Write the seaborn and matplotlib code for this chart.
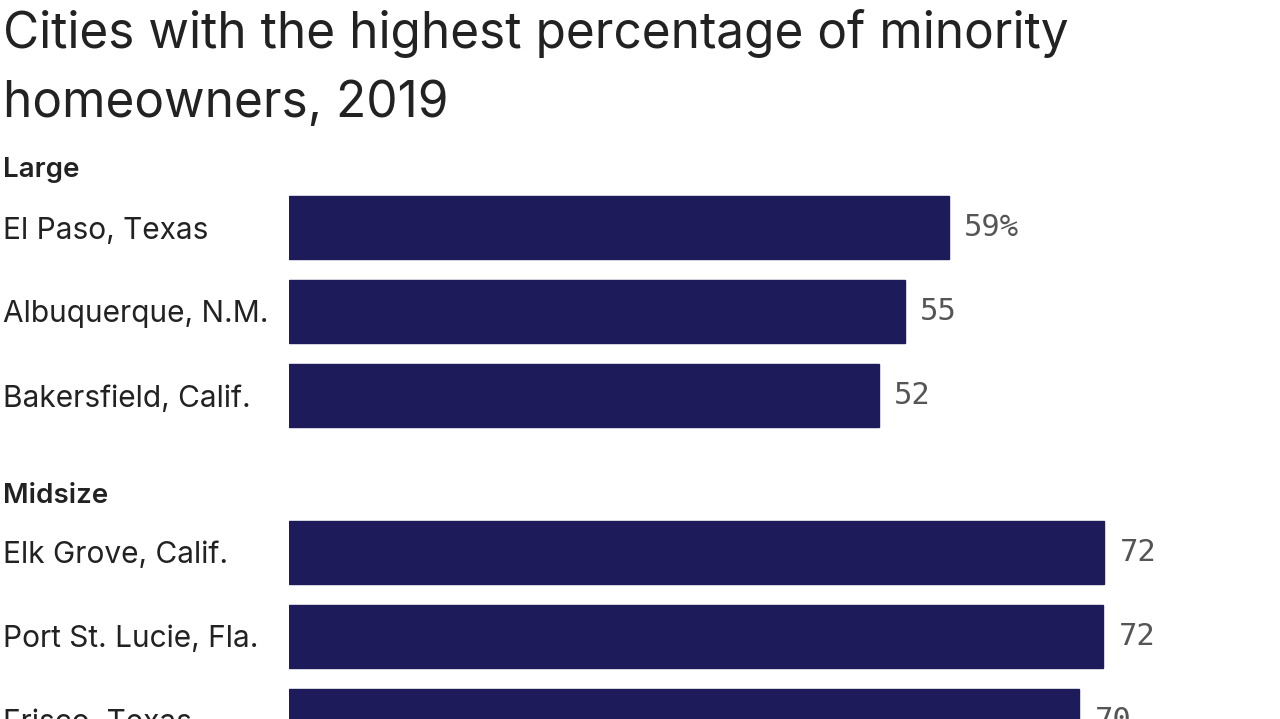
import pandas as pd
import matplotlib
matplotlib.use("Agg")
import matplotlib.pyplot as plt
import seaborn as sns

# data
large_cities = ["El Paso, Texas", "Albuquerque, N.M.", "Bakersfield, Calif."]
large_pct = [58.6, 54.7, 52.4]
large_labels = ["59%", "55", "52"]

mid_cities = ["Elk Grove, Calif.", "Port St. Lucie, Fla.", "Frisco, Texas"]
mid_pct = [72.4, 72.3, 70.2]
mid_labels = ["72", "72", "70"]

bar_color = "#1e1b5a"
text_color = "#222222"

sns.set_theme(style="white")
plt.rcParams["font.family"] = ["Inter", "DejaVu Sans"]

fig = plt.figure(figsize=(12.8, 7.19), dpi=100)
fig.patch.set_facecolor("white")

W, H = 1280, 719
left = 289 / W
width = 80 * 11.26 / W
ax_h = 252 / H

ax1 = fig.add_axes([left, (H - 437.5) / H, width, ax_h])
ax2 = fig.add_axes([left, (H - 762.5) / H, width, ax_h])

groups = [
    (ax1, large_cities, large_pct, large_labels),
    (ax2, mid_cities, mid_pct, mid_labels),
]

for ax, cities, pct, labels in groups:
    df = pd.DataFrame({"city": cities, "pct": pct})
    sns.barplot(data=df, x="pct", y="city", orient="h", color=bar_color,
                width=0.75, saturation=1, edgecolor=bar_color, ax=ax)
    ax.bar_label(ax.containers[0], labels=labels, padding=11,
                 fontsize=22, color="#555555", family="DejaVu Sans Mono")
    ax.set_xlim(0, 80)
    ax.set_ylim(2.5, -0.5)
    ax.set_xlabel("")
    ax.set_ylabel("")
    ax.set_xticks([])
    ax.tick_params(axis="y", length=0, pad=206, labelsize=21.5, labelcolor=text_color)
    for lab in ax.get_yticklabels():
        lab.set_ha("left")
    sns.despine(ax=ax, left=True, bottom=True)
    ax.set_facecolor("white")

fig.text(3 / W, 1 - 48 / H, "Cities with the highest percentage of minority",
         fontsize=35.7, color=text_color, va="baseline", ha="left")
fig.text(3 / W, 1 - 117 / H, "homeowners, 2019",
         fontsize=35.7, color=text_color, va="baseline", ha="left")

fig.text(3 / W, 1 - 177 / H, "Large", fontsize=20, fontweight="semibold",
         color=text_color, va="baseline", ha="left")
fig.text(3 / W, 1 - 503 / H, "Midsize", fontsize=20, fontweight="semibold",
         color=text_color, va="baseline", ha="left")

fig.savefig("out.png", dpi=100)
